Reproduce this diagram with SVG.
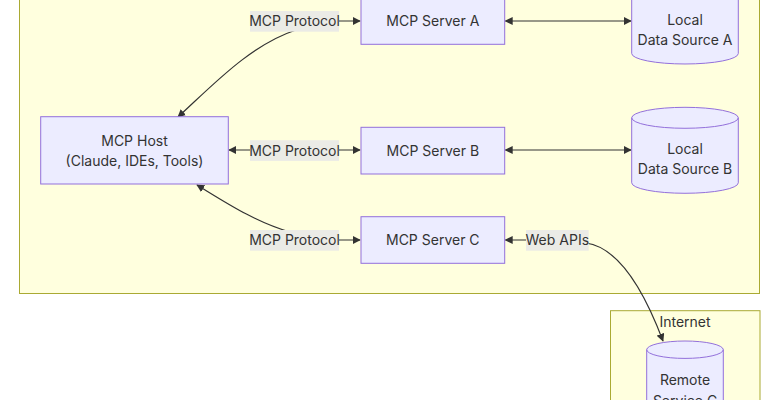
<svg xmlns="http://www.w3.org/2000/svg" width="770" height="400" viewBox="0 0 770 400">
<style>
.cluster{fill:#ffffde;stroke:#aaaa33;stroke-width:1}
.node{fill:#ececff;stroke:#9370db;stroke-width:1}
.t{font-family:Inter,"Noto Sans",sans-serif;font-size:14px;fill:#333;text-anchor:middle}
.edge{fill:none;stroke:#333;stroke-width:1.2}
.lbl{fill:#ebebe6}
</style>
<defs>
<marker id="ae" viewBox="0 0 10 10" refX="9" refY="5" markerWidth="8" markerHeight="8" markerUnits="userSpaceOnUse" orient="auto">
<path d="M0,0 L10,5 L0,10 z" fill="#333"/>
</marker>
<marker id="as" viewBox="0 0 10 10" refX="1" refY="5" markerWidth="8" markerHeight="8" markerUnits="userSpaceOnUse" orient="auto">
<path d="M10,0 L0,5 L10,10 z" fill="#333"/>
</marker>
</defs>
<rect width="770" height="400" fill="#fff"/>
<g id="cluster-local"><rect class="cluster" x="19.5" y="-20" width="740" height="313.5"/></g>
<g id="cluster-internet"><rect class="cluster" x="610.5" y="310.7" width="149.5" height="110"/>
<text class="t" x="685" y="326.5">Internet</text></g>

<g id="edges">
<path class="edge" d="M178,117 C212,86 250,45 296,30 Q312,22 330,21 L360,21" marker-start="url(#as)" marker-end="url(#ae)"/>
<path class="edge" d="M229,150 L360,150" marker-start="url(#as)" marker-end="url(#ae)"/>
<path class="edge" d="M197,185 C225,202 255,222 290,232 Q305,238 320,240 L360,240" marker-start="url(#as)" marker-end="url(#ae)"/>
<path class="edge" d="M505.5,21 L631,21" marker-start="url(#as)" marker-end="url(#ae)"/>
<path class="edge" d="M505.5,150 L631,150" marker-start="url(#as)" marker-end="url(#ae)"/>
<path class="edge" d="M505.5,240 L560,240 Q575,240 586,243" marker-start="url(#as)"/>
<path class="edge" d="M586,243 C615,247 640,280 663,341" marker-end="url(#ae)"/>
<rect class="lbl" x="250" y="11" width="89" height="20.7"/>
<text class="t" x="294.5" y="26">MCP Protocol</text>
<rect class="lbl" x="250" y="140.2" width="89" height="20.7"/>
<text class="t" x="294.5" y="155.5">MCP Protocol</text>
<rect class="lbl" x="250" y="230" width="89" height="20.7"/>
<text class="t" x="294.5" y="245.3">MCP Protocol</text>
<rect class="lbl" x="526" y="230" width="62.7" height="20.7"/>
<text class="t" x="557.3" y="245.3">Web APIs</text>
</g>

<g id="host"><rect class="node" x="40.7" y="116.7" width="187.6" height="67.3"/>
<text class="t" x="134.5" y="145.8">MCP Host</text>
<text class="t" x="134.5" y="166.3">(Claude, IDEs, Tools)</text></g>

<g id="serverA"><rect class="node" x="361" y="-2.5" width="143.7" height="46.8"/>
<text class="t" x="432.8" y="26.2">MCP Server A</text></g>
<g id="serverB"><rect class="node" x="361" y="127.3" width="143.7" height="46.7"/>
<text class="t" x="432.8" y="155.6">MCP Server B</text></g>
<g id="serverC"><rect class="node" x="361" y="216.7" width="143.7" height="46.6"/>
<text class="t" x="432.8" y="245.2">MCP Server C</text></g>

<g id="dataA"><path class="node" d="M631.7,-11.5 a53.3,10.5 0 0 0 106.6,0 a53.3,10.5 0 0 0 -106.6,0 l0,65 a53.3,10.5 0 0 0 106.6,0 l0,-65"/>
<text class="t" x="685" y="24.8">Local</text>
<text class="t" x="685" y="45.2">Data Source A</text></g>
<g id="dataB"><path class="node" d="M631.7,117.8 a53.3,10.5 0 0 0 106.6,0 a53.3,10.5 0 0 0 -106.6,0 l0,65 a53.3,10.5 0 0 0 106.6,0 l0,-65"/>
<text class="t" x="685" y="153.8">Local</text>
<text class="t" x="685" y="174.4">Data Source B</text></g>
<g id="remoteC"><path class="node" d="M646.7,349.7 a38.3,8.7 0 0 0 76.6,0 a38.3,8.7 0 0 0 -76.6,0 l0,70 a38.3,8.7 0 0 0 76.6,0 l0,-70"/>
<text class="t" x="685" y="385">Remote</text>
<text class="t" x="685" y="405.5">Service C</text></g>
</svg>
